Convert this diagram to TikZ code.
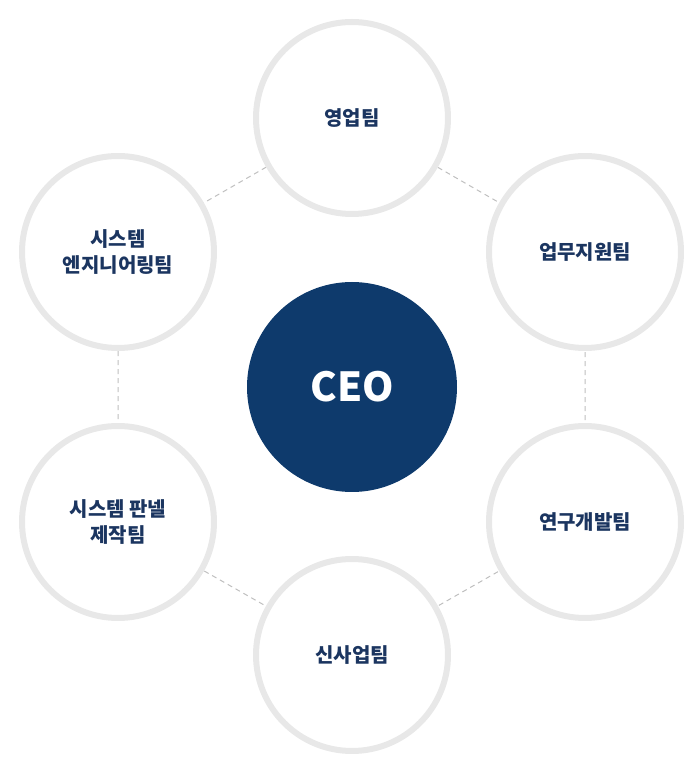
\documentclass[tikz,border=0pt]{standalone}
\usepackage{fontspec}
\newfontfamily\kr{Noto Sans CJK KR}
\definecolor{navy}{HTML}{0E3A6C}
\definecolor{ring}{HTML}{E8E8E8}
\definecolor{txt}{HTML}{1B3560}
\begin{document}
\begin{tikzpicture}[x=1pt,y=1pt,
  team/.style={circle,draw=ring,line width=6pt,fill=white,minimum size=192pt,inner sep=0pt,align=center,font=\kr\bfseries\fontsize{20}{26}\selectfont,text=txt},
  link/.style={draw=black!25,dashed,line width=1pt,dash pattern=on 5pt off 4pt}]
\useasboundingbox (0,0) rectangle (700,772);
\coordinate (t) at (352,654);
\coordinate (ur) at (585,520);
\coordinate (lr) at (585,250);
\coordinate (b) at (352,117);
\coordinate (ll) at (118,250);
\coordinate (ul) at (118,520);
\draw[link] (t)--(ur)--(lr)--(b)--(ll)--(ul)--cycle;
\node[team] (n1) at (t) {영업팀};
\node[team] (n2) at (ur) {업무지원팀};
\node[team] (n3) at (lr) {연구개발팀};
\node[team] (n4) at (b) {신사업팀};
\node[team] (n5) at (ll) {시스템 판넬\\제작팀};
\node[team] (n6) at (ul) {시스템\\엔지니어링팀};
\node[circle,fill=navy,minimum size=210pt,text=white,font=\kr\bfseries\fontsize{40}{44}\selectfont] (ceo) at (352,385) {CEO};
\end{tikzpicture}
\end{document}
